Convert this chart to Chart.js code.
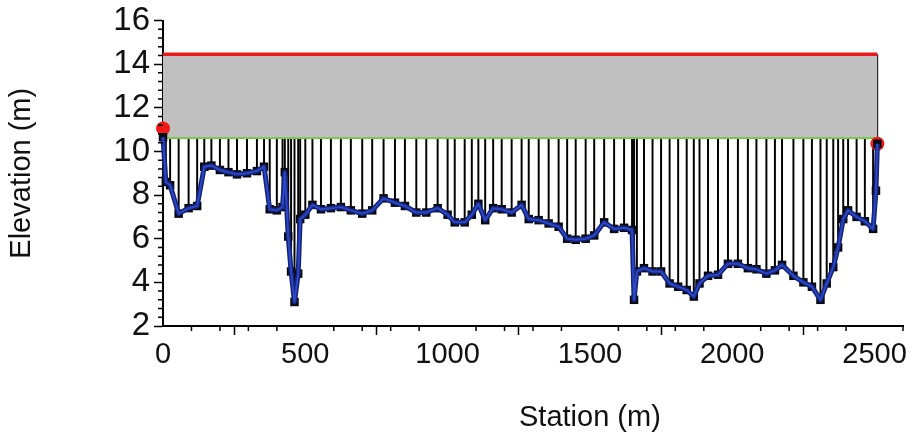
<!DOCTYPE html>
<html>
<head>
<meta charset="utf-8">
<script src="https://cdn.jsdelivr.net/npm/chart.js@4.4.1/dist/chart.umd.min.js"></script>
<style>
  html, body { margin: 0; padding: 0; background: #ffffff; }
  #wrap { width: 910px; height: 436px; }
</style>
</head>
<body>
<div id="wrap"><canvas id="chart" width="910" height="436"></canvas></div>
<script>
// Surveyed cross-section: station (m) and bed elevation (m)
const stations = [
  0, 10, 25, 55, 90, 120, 145, 170, 200, 230, 260, 295, 330, 355, 375, 400, 420, 428,
  440, 450, 462, 475, 482, 500, 525, 555, 590, 625, 660, 700, 735, 775, 815, 850, 890,
  925, 965, 1000, 1025, 1060, 1085, 1108, 1132, 1160, 1190, 1225, 1260, 1285, 1320,
  1355, 1390, 1420, 1450, 1485, 1515, 1550, 1585, 1620, 1648, 1655, 1665, 1690, 1720,
  1750, 1780, 1810, 1840, 1865, 1885, 1915, 1950, 1985, 2020, 2055, 2085, 2120, 2150,
  2175, 2215, 2250, 2280, 2310, 2332, 2355, 2372, 2390, 2407, 2437, 2466, 2495, 2505, 2510
];
const elevations = [
  10.65, 8.6, 8.45, 7.15, 7.4, 7.5, 9.3, 9.35, 9.15, 9.05, 8.95, 9.0, 9.1, 9.3, 7.35, 7.3, 7.45, 9.05,
  6.1, 4.5, 3.1, 4.4, 6.9, 7.1, 7.55, 7.35, 7.4, 7.45, 7.3, 7.15, 7.3, 7.85, 7.65, 7.5, 7.2,
  7.2, 7.4, 7.1, 6.75, 6.75, 7.1, 7.6, 6.85, 7.4, 7.35, 7.2, 7.55, 6.9, 6.85,
  6.7, 6.55, 6.0, 5.95, 6.0, 6.15, 6.75, 6.45, 6.5, 6.4, 3.2, 4.5, 4.65, 4.5,
  4.5, 3.95, 3.8, 3.65, 3.35, 3.95, 4.3, 4.35, 4.85, 4.85, 4.65, 4.6, 4.4, 4.55,
  4.8, 4.3, 4.0, 3.8, 3.2, 3.95, 4.7, 5.6, 6.9, 7.3, 7.0, 6.8, 6.45, 8.2, 10.35
];

// Bank line and design water level spanning the section
const bankLevel = 10.65;
const waterLevel = 14.45;
const sectionStart = 0;
const sectionEnd = 2510;

// Bank end marks
const endStations = [0, 2510];
const endElevations = [11.05, 10.35];

// Axis tick labels
const xTickLabels = [0, 500, 1000, 1500, 2000, 2500];
const yTickLabels = [2, 4, 6, 8, 10, 12, 14, 16];

const xTitle = 'Station (m)';
const yTitle = 'Elevation (m)';

const profilePts = stations.map((s, i) => ({ x: s, y: elevations[i] }));
const depthBars = stations.map((s, i) => ({ x: s, y: [elevations[i], bankLevel] }));
const endPts = endStations.map((s, i) => ({ x: s, y: endElevations[i] }));

const fontFamily = '"Liberation Sans", Arial, sans-serif';
const xTickFont = { family: fontFamily, size: 29, lineHeight: 1 };
const yTickFont = { family: fontFamily, size: 33, lineHeight: 1 };
const titleFont = '29px ' + fontFamily;

// Minor tick marks and the station title
const axisExtras = {
  id: 'axisExtras',
  afterDraw(chart) {
    const { ctx } = chart;
    const xs = chart.scales.x, ys = chart.scales.y;
    ctx.save();
    ctx.strokeStyle = '#000';
    ctx.lineWidth = 1.5;
    ctx.beginPath();
    for (let v = 100; v <= 2600; v += 100) {
      if (v % 500 === 0) continue;
      const px = xs.getPixelForValue(v);
      ctx.moveTo(px, xs.top);
      ctx.lineTo(px, xs.top + 5);
    }
    for (let i = 1; i < 35; i++) {
      if (i % 5 === 0) continue;
      const py = ys.getPixelForValue(2 + i * 0.4);
      ctx.moveTo(ys.right - 5, py);
      ctx.lineTo(ys.right, py);
    }
    ctx.stroke();
    ctx.font = titleFont;
    ctx.fillStyle = '#111';
    ctx.textAlign = 'center';
    ctx.textBaseline = 'middle';
    ctx.fillText(xTitle, xs.getPixelForValue(1500), 418);
    ctx.restore();
  }
};

new Chart(document.getElementById('chart'), {
  type: 'line',
  data: {
    datasets: [
      { // profile line, bright core
        data: profilePts, borderColor: '#2b47c4', borderWidth: 2, pointRadius: 0,
        tension: 0, borderJoinStyle: 'round', order: 0, clip: false
      },
      { // profile line, dark edge
        data: profilePts, borderColor: '#14237a', borderWidth: 5, pointRadius: 0,
        tension: 0, borderJoinStyle: 'round', order: 1, clip: false
      },
      { // survey point markers
        data: profilePts, showLine: false, pointStyle: 'rect', pointRadius: 6,
        pointBackgroundColor: '#08080f', pointBorderWidth: 0, order: 2, clip: false
      },
      { // bank end marks
        data: endPts, showLine: false, pointStyle: 'circle', pointRadius: 7,
        pointBackgroundColor: '#f01818', pointBorderWidth: 0, order: 3, clip: false
      },
      { // water level
        data: [{ x: sectionStart, y: waterLevel }, { x: sectionEnd, y: waterLevel }],
        borderColor: '#ec1a1f', borderWidth: 3.5, pointRadius: 0,
        fill: 6, backgroundColor: '#c0c0c0', order: 4
      },
      { // right section edge
        data: [{ x: sectionEnd, y: waterLevel }, { x: sectionEnd, y: endElevations[1] }],
        borderColor: '#111', borderWidth: 1.6, pointRadius: 0, order: 4, clip: false
      },
      { // bank line
        data: [{ x: sectionStart, y: bankLevel }, { x: sectionEnd, y: bankLevel }],
        borderColor: '#6ccb3a', borderWidth: 3.5, pointRadius: 0, order: 5
      },
      { // depth verticals
        type: 'bar', data: depthBars, backgroundColor: '#000', barThickness: 1.3,
        grouped: false, order: 6
      }
    ]
  },
  options: {
    responsive: false,
    animation: false,
    devicePixelRatio: 1,
    layout: { padding: { top: 17, right: 3, left: 0, bottom: 0 } },
    plugins: { legend: { display: false }, tooltip: { enabled: false } },
    scales: {
      x: {
        type: 'linear', min: 0, max: 2600, offset: false,
        afterBuildTicks(scale) { scale.ticks = xTickLabels.map(v => ({ value: v })); },
        ticks: {
          color: '#111', font: xTickFont, padding: 5,
          maxRotation: 0, autoSkip: false,
          callback: v => String(v)
        },
        grid: { display: true, drawOnChartArea: false, tickLength: 9, tickWidth: 1.5, tickColor: '#000' },
        border: { display: true, color: '#000', width: 2 },
        afterFit(scale) {
          scale.height = 110;
          scale.paddingRight = 0;
          scale.paddingLeft = 0;
        }
      },
      y: {
        type: 'linear', min: 2, max: 16,
        afterBuildTicks(scale) { scale.ticks = yTickLabels.map(v => ({ value: v })); },
        ticks: {
          color: '#111', font: yTickFont, padding: 4,
          callback: v => String(v)
        },
        grid: { display: true, drawOnChartArea: false, tickLength: 9, tickWidth: 1.5, tickColor: '#000' },
        border: { display: true, color: '#000', width: 2 },
        title: {
          display: true, text: yTitle, color: '#111',
          font: { family: fontFamily, size: 29 },
          padding: { top: 5, bottom: 0 }
        },
        afterFit(scale) { scale.width = 163; }
      }
    }
  },
  plugins: [axisExtras]
});
</script>
</body>
</html>
